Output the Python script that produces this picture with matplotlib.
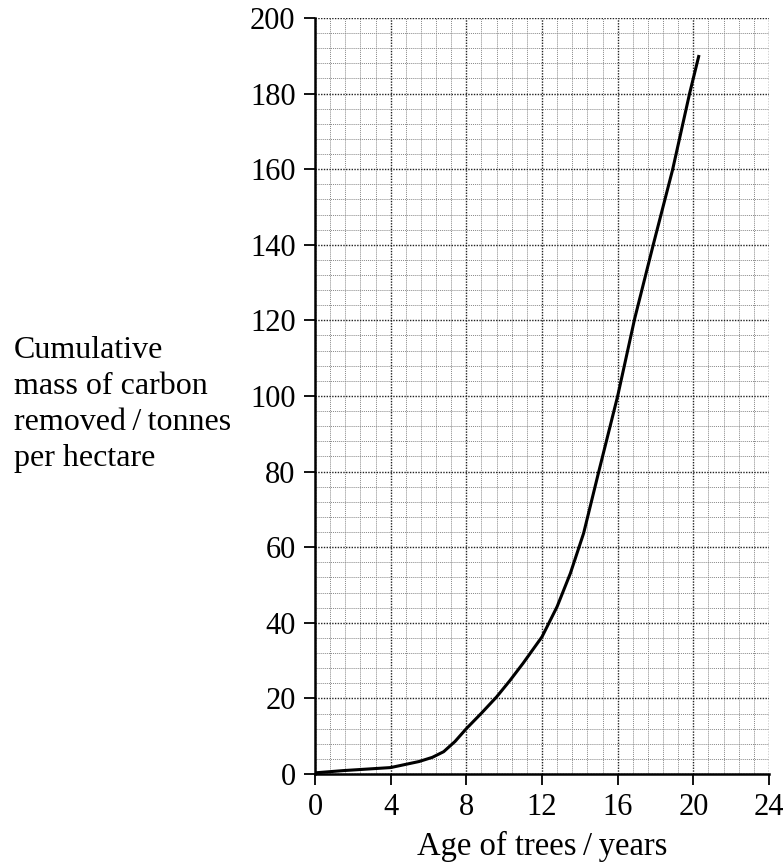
import matplotlib
matplotlib.use("Agg")
import matplotlib.pyplot as plt
from matplotlib.ticker import MultipleLocator

# ── Daten ─────────────────────────────────────────────────────────────────────
age = [0, 1.5, 4, 5.5, 6.2, 6.8, 7.4, 8, 8.8, 9.6, 10.3, 11, 12, 12.8, 13.5,
       14.2, 15, 16, 16.9, 17.9, 18.9, 19.8, 20.3]
carbon = [0.3, 0.9, 1.7, 3.3, 4.4, 5.9, 8.6, 12, 16.1, 20.4, 24.7, 29.3, 36.3, 44.3, 53.1,
          63.7, 80, 100, 120.5, 140.4, 159.8, 180, 190.2]

x_ticks = [0, 4, 8, 12, 16, 20, 24]
y_ticks = [0, 20, 40, 60, 80, 100, 120, 140, 160, 180, 200]

plt.rcParams["font.family"] = ["Liberation Serif", "DejaVu Serif"]

fig = plt.figure(figsize=(7.84, 8.68), dpi=100)
ax = fig.add_axes([0.4018, 0.1083, 0.5791, 0.8710])

# ── Millimeterpapier-Gitter ───────────────────────────────────────────────────
ax.xaxis.set_minor_locator(MultipleLocator(0.8))
ax.yaxis.set_minor_locator(MultipleLocator(4))
ax.grid(which="minor", color="#888888", linestyle=(0, (1, 1)), linewidth=0.7)
ax.grid(which="major", color="#222222", linestyle=(0, (1, 1)), linewidth=1.0)
ax.set_axisbelow(True)

ax.plot(age, carbon, color="black", linewidth=2.2, solid_capstyle="butt",
        solid_joinstyle="round", zorder=5)

ax.set_xlim(0, 24)
ax.set_ylim(0, 200)
ax.set_xticks(x_ticks)
ax.set_yticks(y_ticks)
ax.tick_params(which="major", direction="out", length=8, width=1.3, labelsize=22, pad=6)
ax.tick_params(which="minor", length=0)

for side in ["top", "right"]:
    ax.spines[side].set_visible(False)
for side in ["left", "bottom"]:
    ax.spines[side].set_linewidth(1.8)
    ax.spines[side].set_zorder(6)

fig.text(0.691, 0.015, "Age of trees\u2009/\u2009years", ha="center", va="baseline", fontsize=23.5)
fig.text(0.018, 0.534, "Cumulative\nmass of carbon\nremoved\u2009/\u2009tonnes\nper hectare",
         ha="left", va="center", fontsize=23, linespacing=1.33)

plt.savefig("out.png", dpi=100)
